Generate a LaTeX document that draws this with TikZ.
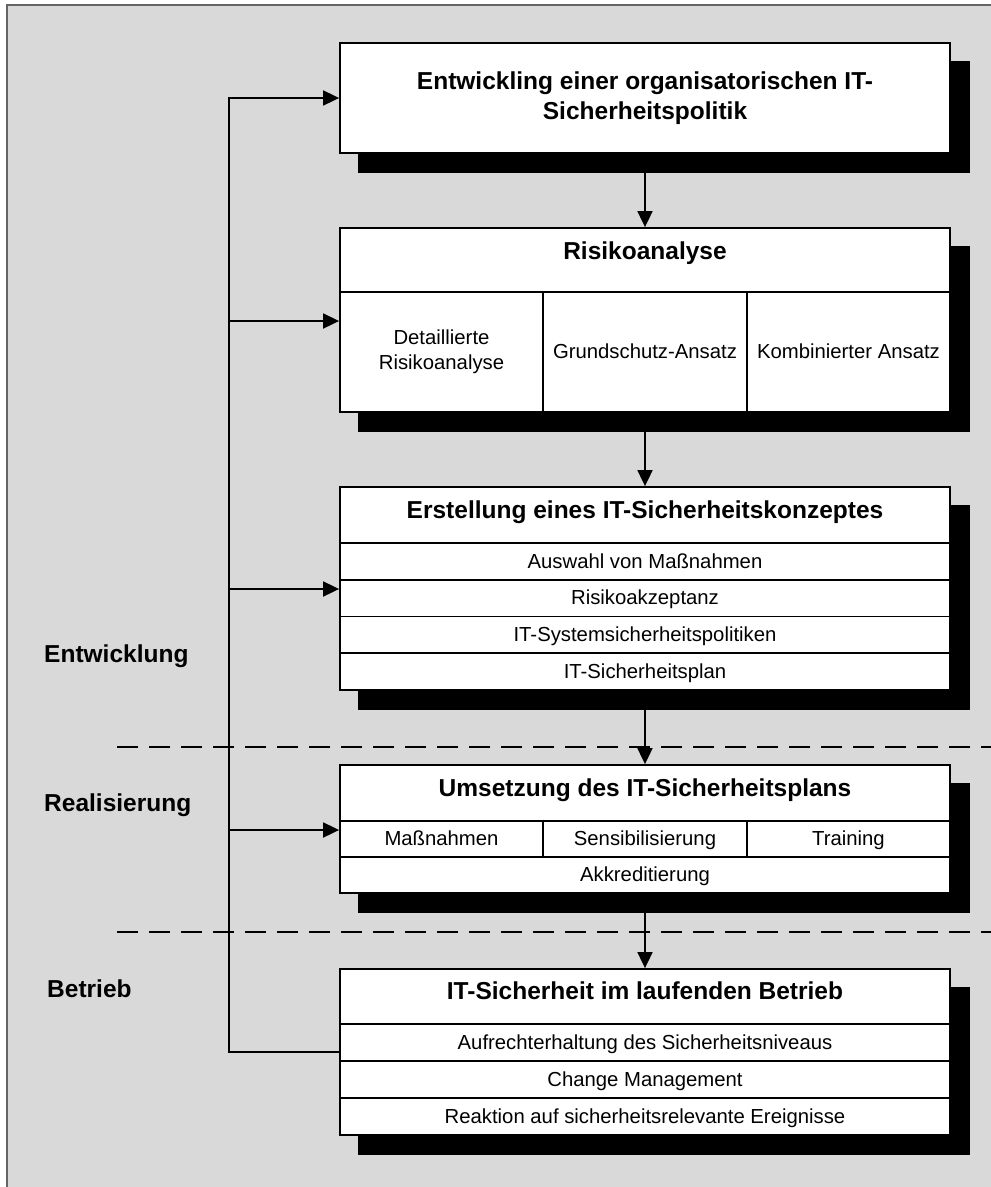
\documentclass[tikz,border=0pt]{standalone}
\usepackage{fontspec}
\setmainfont{Liberation Sans}
\usetikzlibrary{arrows.meta,calc,backgrounds}

\definecolor{paneGray}{RGB}{217,217,217}
\definecolor{paneEdge}{RGB}{100,100,100}
\providecommand{\isecLineWidth}{1.8pt}
\providecommand{\isecShadowOff}{19}
\newcommand{\headFont}{\fontsize{24.5pt}{30pt}\selectfont\bfseries}
\newcommand{\itemFont}{\fontsize{20.3pt}{25pt}\selectfont}

\tikzset{
  cellbox/.style={draw=black, fill=white, line width=\isecLineWidth, inner sep=0pt},
  headcell/.style={cellbox, font=\headFont, minimum width=610pt, text height=17.6pt, text depth=11pt},
  item/.style={cellbox, font=\itemFont, text height=14.6pt, text depth=1pt},
  flow/.style={line width=\isecLineWidth, -{Triangle[length=16pt,width=15pt]}},
  phase/.style={font=\headFont, anchor=base west, inner sep=0pt},
  phasesep/.style={line width=2pt, dash pattern=on 21pt off 11pt},
  shadowfill/.style={fill=black},
}

\begin{document}
\begin{tikzpicture}[x=1pt, y=-1pt]
\useasboundingbox (0,0) rectangle (991,1187);
% IT-Sicherheitspolitik
\node[cellbox, font=\headFont, align=center, minimum width=610pt, minimum height=110pt] (pol) at (645,98) {Entwickling einer organisatorischen IT-\\Sicherheitspolitik};
% Risikoanalyse with three approaches
\node[headcell, minimum height=64pt, text depth=18pt] (risk) at (645,260) {Risikoanalyse};
\node[cellbox, font=\itemFont, align=center, minimum width=203pt, minimum height=120pt] (ra1) at (441.5,352) {Detaillierte\\Risikoanalyse};
\node[item, minimum width=204pt, minimum height=120pt] (ra2) at (645,352) {Grundschutz-Ansatz};
\node[item, minimum width=203pt, minimum height=120pt] (ra3) at (848.5,352) {Kombinierter Ansatz};
% Sicherheitskonzept
\node[headcell, minimum height=56pt] (konz) at (645,515) {Erstellung eines IT-Sicherheitskonzeptes};
\foreach \n/\y/\t in {k1/561.4/Auswahl von Maßnahmen, k2/598.1/Risikoakzeptanz, k3/634.9/IT-Systemsicherheitspolitiken, k4/671.6/IT-Sicherheitsplan}
  \node[item, minimum width=610pt, minimum height=36.75pt] (\n) at (645,\y) {\t};
% Umsetzung
\node[headcell, minimum height=56pt] (umst) at (645,793) {Umsetzung des IT-Sicherheitsplans};
\node[item, minimum width=203pt, minimum height=36pt] (u1) at (441.5,839) {Maßnahmen};
\node[item, minimum width=204pt, minimum height=36pt] (u2) at (645,839) {Sensibilisierung};
\node[item, minimum width=203pt, minimum height=36pt] (u3) at (848.5,839) {Training};
\node[item, minimum width=610pt, minimum height=36pt] (akk) at (645,875) {Akkreditierung};
% Betrieb
\node[headcell, minimum height=55pt] (betr) at (645,996.5) {IT-Sicherheit im laufenden Betrieb};
\foreach \n/\y/\t in {b1/1042.5/Aufrechterhaltung des Sicherheitsniveaus, b2/1079.5/Change Management, b3/1116.5/Reaktion auf sicherheitsrelevante Ereignisse}
  \node[item, minimum width=610pt, minimum height=37pt] (\n) at (645,\y) {\t};

% Phase labels and separators
\node[phase] (phEntw) at (44,662) {Entwicklung};
\node[phase] (phReal) at (44,811.5) {Realisierung};
\node[phase] (phBetr) at (47,997) {Betrieb};
\draw[phasesep] (117,747) -- (995,747);
\draw[phasesep] (117,932) -- (995,932);

% Flow between the steps
\draw[flow] (pol.south) -- (risk.north);
\draw[flow] (ra2.south) -- (konz.north);
\draw[flow] (k4.south) -- (umst.north);
\draw[flow] (akk.south) -- (betr.north);

% Feedback bus on the left
\coordinate (busTop) at (229,98);
\coordinate (busBot) at (229,1052);
\coordinate (tapRisk) at (229,321);
\coordinate (tapKonz) at (229,589);
\coordinate (tapUmst) at (229,830);
\draw[flow] (b1.west |- busBot) -- (busBot) -- (busTop) -- (pol.west);
\foreach \c/\t in {tapRisk/ra1, tapKonz/k2, tapUmst/u1}
  \draw[flow] (\c) -- (\c -| \t.west);

% Pane and box shadows
\begin{scope}[on background layer]
  \fill[white] (0,0) rectangle (991,1187);
  \fill[paneGray] (7,5) rectangle (995,1192);
  \draw[paneEdge, line width=1.2pt] (995,5) -- (7,5) -- (7,1192);
  \foreach \a/\b in {pol/pol, risk/ra3, konz/k4, umst/akk, betr/b3}
    \fill[shadowfill] ($(\a.north west)+(\isecShadowOff,\isecShadowOff)$) rectangle ($(\b.south east)+(\isecShadowOff,\isecShadowOff)$);
\end{scope}
\end{tikzpicture}
\end{document}
